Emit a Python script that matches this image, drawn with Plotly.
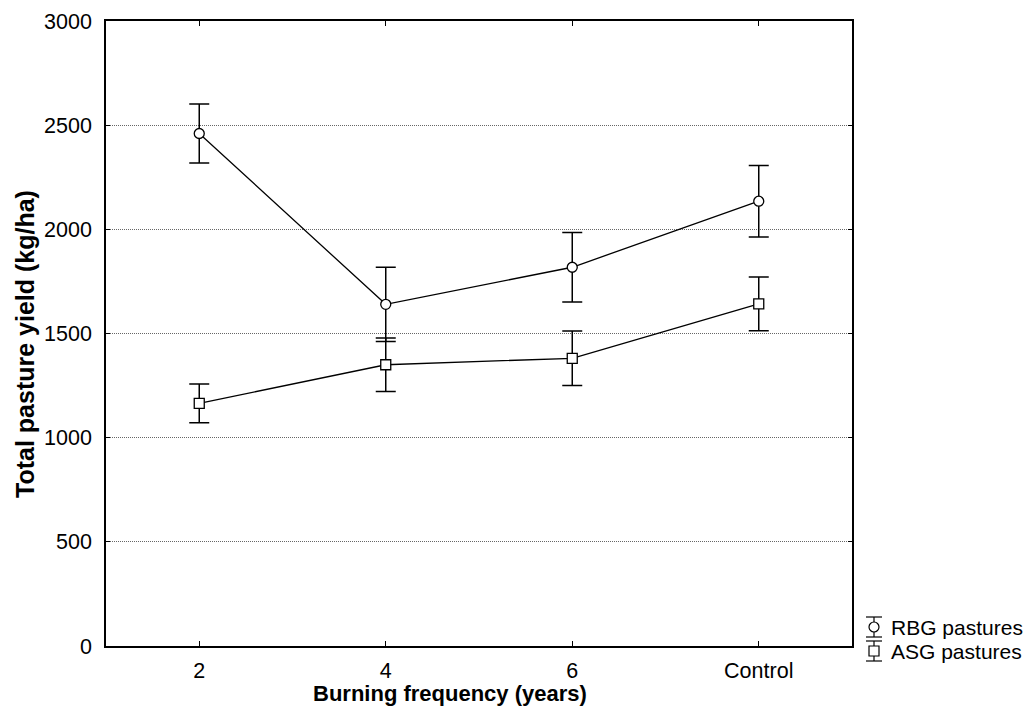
import plotly.graph_objects as go

categories = ["2", "4", "6", "Control"]
rbg_mean = [2460, 1640, 1818, 2135]
rbg_err = [142, 178, 167, 172]
asg_mean = [1165, 1350, 1381, 1642]
asg_err = [93, 128, 131, 129]
y_ticks = [0, 500, 1000, 1500, 2000, 2500, 3000]
series_names = ["RBG pastures", "ASG pastures"]
x_title = "Burning frequency (years)"
y_title = "Total pasture yield (kg/ha)"

FONT = "Liberation Sans, Arial, sans-serif"
OFF = 8  # page body margin
W, H = 1032 - 2 * OFF, 714 - 2 * OFF
# plot box in screen pixels
L, R, T, B = 106, 852, 21, 646

fig = go.Figure()
for mean, err, sym in [(rbg_mean, rbg_err, "circle"), (asg_mean, asg_err, "square")]:
    fig.add_trace(go.Scatter(
        x=categories, y=mean, mode="lines+markers",
        line=dict(color="black", width=1.3),
        marker=dict(symbol=sym, size=10, color="white", line=dict(color="black", width=1.3)),
        error_y=dict(type="data", array=err, visible=True, color="black", thickness=1.5, width=10),
        showlegend=False, cliponaxis=False,
    ))

def px2x(px):
    return (px - L) / (R - L)

def py2y(py):
    return (B - py) / (B - T)

shapes = []
xc = 874
for yc, sym in [(627, "circle"), (651, "square")]:
    top, bot = yc - 10, yc + 10
    line = dict(color="black", width=1.2)
    shapes.append(dict(type="line", xref="paper", yref="paper", x0=px2x(xc), x1=px2x(xc), y0=py2y(top), y1=py2y(bot), line=line))
    for yy in (top, bot):
        shapes.append(dict(type="line", xref="paper", yref="paper", x0=px2x(xc - 8), x1=px2x(xc + 8), y0=py2y(yy), y1=py2y(yy), line=line))
    shapes.append(dict(type="circle" if sym == "circle" else "rect", xref="paper", yref="paper",
                       x0=px2x(xc - 5), x1=px2x(xc + 5), y0=py2y(yc + 5), y1=py2y(yc - 5),
                       fillcolor="white", line=line, layer="above"))

annotations = []
for yc, name in [(627, series_names[0]), (651, series_names[1])]:
    annotations.append(dict(xref="paper", yref="paper", x=px2x(889), y=py2y(yc), text=name,
                            showarrow=False, xanchor="left", yanchor="middle",
                            font=dict(family=FONT, size=21, color="black")))
annotations.append(dict(xref="paper", yref="paper", x=px2x(450), y=py2y(693),
                        text="<b>" + x_title + "</b>", showarrow=False,
                        xanchor="center", yanchor="middle",
                        font=dict(family=FONT, size=22, color="black")))
annotations.append(dict(xref="paper", yref="paper", x=px2x(25), y=py2y(344),
                        text="<b>" + y_title + "</b>", showarrow=False, textangle=-90,
                        xanchor="center", yanchor="middle",
                        font=dict(family=FONT, size=25, color="black")))

fig.update_layout(
    width=W, height=H,
    margin=dict(l=L - OFF, r=W - (R - OFF), t=T - OFF, b=H - (B - OFF)),
    paper_bgcolor="white", plot_bgcolor="white",
    font=dict(family=FONT, size=21.5, color="black"),
    shapes=shapes, annotations=annotations,
    xaxis=dict(
        type="category", range=[-0.5, 3.5], showgrid=False, automargin=False,
        showline=True, linecolor="black", linewidth=1.5, mirror="ticks",
        ticks="inside", ticklen=5, tickcolor="black", tickwidth=1,
        ticklabelstandoff=4, tickfont=dict(size=21.5),
    ),
    yaxis=dict(
        range=[0, 3000], tickvals=y_ticks, automargin=False,
        showgrid=True, gridcolor="#666666", griddash="1px,1px", gridwidth=1,
        showline=True, linecolor="black", linewidth=1.5, mirror="ticks",
        ticks="inside", ticklen=4, tickcolor="black", tickwidth=1,
        zeroline=False, ticklabelstandoff=8, tickfont=dict(size=21.5),
    ),
)

fig.write_html("out.html")
